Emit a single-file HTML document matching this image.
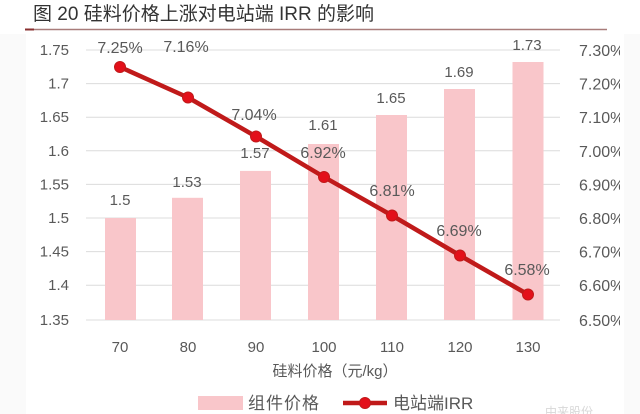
<!DOCTYPE html>
<html><head><meta charset="utf-8"><style>
html,body{margin:0;padding:0;background:#fff;}
svg{display:block;}
text{font-family:"Liberation Sans","Noto Sans CJK SC",sans-serif;}
</style></head><body>
<svg width="640" height="414" viewBox="0 0 640 414" xmlns="http://www.w3.org/2000/svg">
<rect x="0" y="0" width="640" height="414" fill="#ffffff"/>
<rect x="0" y="34" width="26" height="380" fill="#fafafa"/>
<rect x="624" y="34" width="16" height="380" fill="#fafafa"/>
<!-- title -->
<text x="33" y="20" font-size="19" fill="#333">图 20 硅料价格上涨对电站端 IRR 的影响</text>
<line x1="25" y1="29.5" x2="607" y2="29.5" stroke="#a87c7a" stroke-width="1.6"/>
<line x1="25" y1="29.5" x2="34" y2="29.5" stroke="#8a3030" stroke-width="2"/>
<!-- gridlines -->
<g stroke="#dcdcdc" stroke-width="1">
<line x1="86" y1="50" x2="560" y2="50"/>
<line x1="86" y1="83.6" x2="560" y2="83.6"/>
<line x1="86" y1="117.2" x2="560" y2="117.2"/>
<line x1="86" y1="150.8" x2="560" y2="150.8"/>
<line x1="86" y1="184.4" x2="560" y2="184.4"/>
<line x1="86" y1="218" x2="560" y2="218"/>
<line x1="86" y1="251.6" x2="560" y2="251.6"/>
<line x1="86" y1="285.2" x2="560" y2="285.2"/>
<line x1="86" y1="320" x2="560" y2="320"/>
</g>
<!-- left axis -->
<g font-size="15" fill="#595959" text-anchor="end">
<text x="69" y="55">1.75</text>
<text x="69" y="88.6">1.7</text>
<text x="69" y="122.2">1.65</text>
<text x="69" y="155.8">1.6</text>
<text x="69" y="189.4">1.55</text>
<text x="69" y="223">1.5</text>
<text x="69" y="256.6">1.45</text>
<text x="69" y="290.2">1.4</text>
<text x="69" y="325">1.35</text>
</g>
<!-- right axis -->
<clipPath id="rc"><rect x="560" y="30" width="60" height="320"/></clipPath>
<g font-size="16" fill="#595959" clip-path="url(#rc)">
<text x="579" y="56">7.30%</text>
<text x="579" y="89.6">7.20%</text>
<text x="579" y="123.2">7.10%</text>
<text x="579" y="156.8">7.00%</text>
<text x="579" y="190.4">6.90%</text>
<text x="579" y="224">6.80%</text>
<text x="579" y="257.6">6.70%</text>
<text x="579" y="291.2">6.60%</text>
<text x="579" y="326">6.50%</text>
</g>
<!-- bars -->
<g fill="#f9c6ca">
<rect x="105" y="218" width="31" height="102"/>
<rect x="172" y="197.8" width="31" height="122.2"/>
<rect x="240" y="170.9" width="31" height="149.1"/>
<rect x="308" y="144" width="31" height="176"/>
<rect x="376" y="115" width="31" height="205"/>
<rect x="444" y="89" width="31" height="231"/>
<rect x="512.5" y="62" width="31" height="258"/>
</g>
<!-- bar labels -->
<g font-size="15" fill="#595959" text-anchor="middle">
<text x="120" y="205">1.5</text>
<text x="187" y="187">1.53</text>
<text x="255" y="158">1.57</text>
<text x="323" y="130">1.61</text>
<text x="391" y="103">1.65</text>
<text x="459" y="77">1.69</text>
<text x="527" y="50">1.73</text>
</g>
<!-- line -->
<polyline points="120,67 188,97.5 256,136.5 324,177 392,215.5 460,255.5 528,294.5" fill="none" stroke="#c01a1a" stroke-width="4.5" stroke-linejoin="round"/>
<g fill="#e3101a" stroke="#c01a1a" stroke-width="1">
<circle cx="120" cy="67" r="5.5"/>
<circle cx="188" cy="97.5" r="5.5"/>
<circle cx="256" cy="136.5" r="5.5"/>
<circle cx="324" cy="177" r="5.5"/>
<circle cx="392" cy="215.5" r="5.5"/>
<circle cx="460" cy="255.5" r="5.5"/>
<circle cx="528" cy="294.5" r="5.5"/>
</g>
<!-- line labels -->
<g font-size="16" fill="#595959" text-anchor="middle">
<text x="120" y="53">7.25%</text>
<text x="186" y="52">7.16%</text>
<text x="254" y="120">7.04%</text>
<text x="323" y="158">6.92%</text>
<text x="392" y="196">6.81%</text>
<text x="459" y="236">6.69%</text>
<text x="527" y="275">6.58%</text>
</g>
<!-- x labels -->
<g font-size="15" fill="#595959" text-anchor="middle">
<text x="120" y="352">70</text>
<text x="188" y="352">80</text>
<text x="256" y="352">90</text>
<text x="324" y="352">100</text>
<text x="392" y="352">110</text>
<text x="460" y="352">120</text>
<text x="528" y="352">130</text>
</g>
<text x="335" y="376" font-size="15" fill="#595959" text-anchor="middle">硅料价格（元/kg）</text>
<!-- legend -->
<rect x="198" y="396" width="45" height="14" fill="#f9c6ca"/>
<text x="248" y="409" font-size="17" fill="#595959" letter-spacing="1">组件价格</text>
<line x1="343" y1="403" x2="387" y2="403" stroke="#c01a1a" stroke-width="4.5"/>
<circle cx="365" cy="403" r="5.5" fill="#e3101a" stroke="#c01a1a"/>
<text x="393" y="409" font-size="17" fill="#595959">电站端IRR</text>
<text x="545" y="416" font-size="12" fill="#d8d8d8">中来股份</text>
</svg>
</body></html>
